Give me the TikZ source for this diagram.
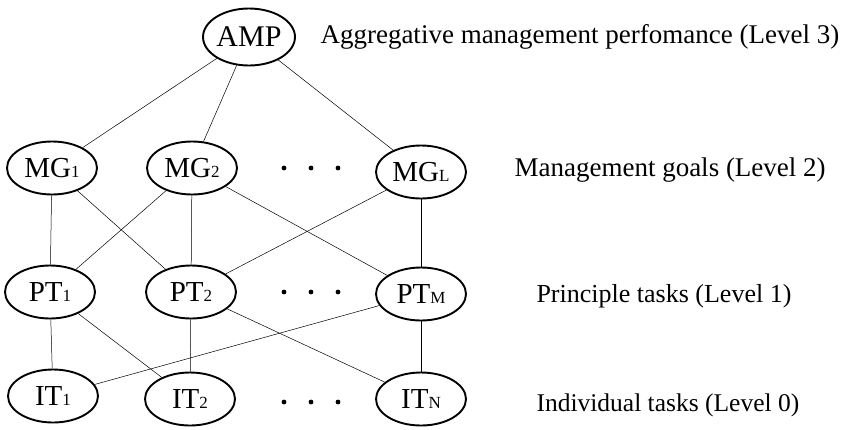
\documentclass[tikz,border=0pt]{standalone}
\usepackage{fontspec}
\setmainfont{Liberation Serif}
\usetikzlibrary{shapes.geometric}
\tikzset{
  goal/.style={draw, ellipse, line width=1.9pt, inner sep=0pt,
    minimum width=90pt, minimum height=53pt, font=\fontsize{29}{30}\selectfont},
  link/.style={line width=0.5pt},
  levellabel/.style={anchor=west, font=\fontsize{26.5}{28}\selectfont}
}
\newcommand{\sbs}[1]{{\fontsize{17}{17}\selectfont #1}}
\begin{document}
\begin{tikzpicture}[x=1pt,y=-1pt]
\useasboundingbox (0,0) rectangle (853,429);
% level 3
\node[goal, minimum width=84pt, minimum height=57pt, font=\fontsize{30}{31}\selectfont] (amp) at (249,37) {AMP};
% level 2
\node[goal] (mg1) at (52,168) {MG\sbs{1}};
\node[goal] (mg2) at (192,168) {MG\sbs{2}};
\node[goal] (mgl) at (421,172) {MG\sbs{L}};
% level 1
\node[goal] (pt1) at (50,292) {PT\sbs{1}};
\node[goal] (pt2) at (191,292) {PT\sbs{2}};
\node[goal] (ptm) at (421,294) {PT\sbs{M}};
% level 0
\node[goal] (it1) at (53,396) {IT\sbs{1}};
\node[goal] (it2) at (190,399) {IT\sbs{2}};
\node[goal] (itn) at (421,399) {IT\sbs{N}};
% ellipsis dots
\foreach \yy in {168,292,402} {
  \foreach \xx in {284,311,338} {
    \fill (\xx,\yy) circle (2.4pt);
  }
}
% level labels
\node[levellabel, font=\fontsize{27}{28}\selectfont] (l3) at (317,37) {Aggregative management perfomance (Level 3)};
\node[levellabel, font=\fontsize{27}{28}\selectfont] (l2) at (511,170) {Management goals (Level 2)};
\node[levellabel, font=\fontsize{26}{28}\selectfont] (l1) at (533,296) {Principle tasks (Level 1)};
\node[levellabel, font=\fontsize{25.5}{28}\selectfont] (l0) at (533,405) {Individual tasks (Level 0)};
% connectors
\draw[link] (amp) -- (mg1);
\draw[link] (amp) -- (mg2);
\draw[link] (amp) -- (mgl);
\draw[link] (mg1) -- (pt1);
\draw[link] (mg1) -- (pt2);
\draw[link] (mg2) -- (pt1);
\draw[link] (mg2) -- (pt2);
\draw[link] (mg2) -- (ptm);
\draw[link] (mgl) -- (pt2);
\draw[link] (mgl) -- (ptm);
\draw[link] (pt1) -- (it1);
\draw[link] (pt1) -- (it2);
\draw[link] (pt2) -- (it2);
\draw[link] (pt2) -- (itn);
\draw[link] (ptm) -- (it1);
\draw[link] (ptm) -- (itn);
\end{tikzpicture}
\end{document}
